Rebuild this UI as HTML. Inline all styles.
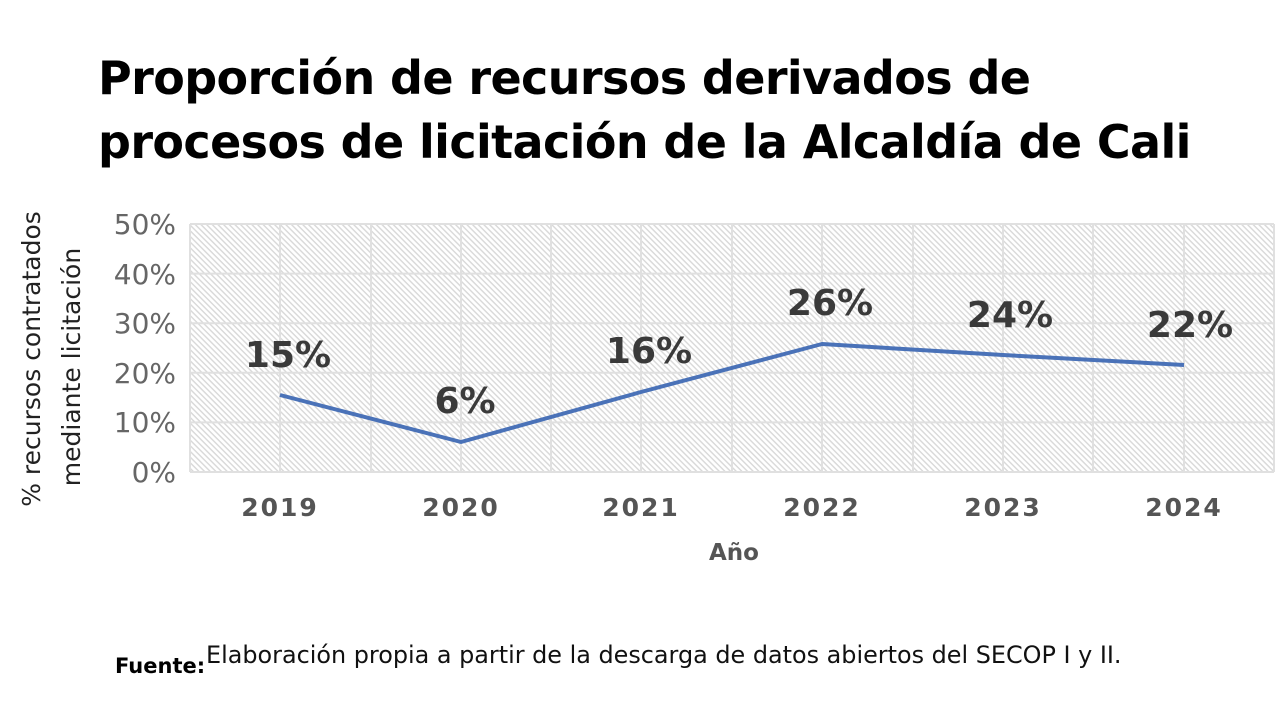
<!DOCTYPE html>
<html><head><meta charset="utf-8"><style>
body{margin:0;width:1280px;height:720px;background:#fff;overflow:hidden;font-family:"DejaVu Sans","Liberation Sans",sans-serif;}
h1{position:absolute;left:98px;top:46px;margin:0;font-family:"DejaVu Sans",sans-serif;font-weight:bold;font-size:46px;line-height:64px;color:#000;letter-spacing:-0.6px;}
</style></head><body>
<h1>Proporción de recursos derivados de<br>procesos de licitación de la Alcaldía de Cali</h1>
<svg width="1280" height="720" style="position:absolute;left:0;top:0">
<defs><pattern id="h" width="4" height="4" patternUnits="userSpaceOnUse" patternTransform="rotate(45)">
<rect width="4" height="4" fill="#fff"/><rect width="4" height="1.4" fill="#d8d8d8"/></pattern></defs>
<rect x="190" y="224" width="1084" height="248" fill="url(#h)"/>
<g stroke="#e0e0e0" stroke-width="2">
<line x1="190" y1="224" x2="1274" y2="224"/><line x1="190" y1="273.6" x2="1274" y2="273.6"/>
<line x1="190" y1="323.2" x2="1274" y2="323.2"/><line x1="190" y1="372.8" x2="1274" y2="372.8"/>
<line x1="190" y1="422.4" x2="1274" y2="422.4"/><line x1="190" y1="472" x2="1274" y2="472"/>
<line x1="190" y1="224" x2="190" y2="472"/><line x1="280" y1="224" x2="280" y2="472"/><line x1="371" y1="224" x2="371" y2="472"/><line x1="461" y1="224" x2="461" y2="472"/><line x1="551" y1="224" x2="551" y2="472"/><line x1="641" y1="224" x2="641" y2="472"/><line x1="732" y1="224" x2="732" y2="472"/><line x1="822" y1="224" x2="822" y2="472"/><line x1="913" y1="224" x2="913" y2="472"/><line x1="1003" y1="224" x2="1003" y2="472"/><line x1="1093" y1="224" x2="1093" y2="472"/><line x1="1184" y1="224" x2="1184" y2="472"/><line x1="1274" y1="224" x2="1274" y2="472"/>
</g>
<polyline points="280,395 461,442 641,392 822,344 1003,355 1184,365" fill="none" stroke="#4a72b8" stroke-width="4" stroke-linejoin="round"/>
<g font-size="28" fill="#666" text-anchor="end" font-family="DejaVu Sans,sans-serif">
<text x="176" y="234">50%</text><text x="176" y="284">40%</text><text x="176" y="333">30%</text><text x="176" y="383">20%</text><text x="176" y="432">10%</text><text x="176" y="482">0%</text>
</g>
<g font-size="25" font-weight="bold" fill="#555" text-anchor="middle" letter-spacing="2">
<text x="280" y="516">2019</text><text x="461" y="516">2020</text><text x="641" y="516">2021</text><text x="822" y="516">2022</text><text x="1003" y="516">2023</text><text x="1184" y="516">2024</text>
</g>
<text x="734" y="560" font-size="23" font-weight="bold" fill="#555" text-anchor="middle">Año</text>
<g font-size="36" font-weight="bold" fill="#3a3a3a" text-anchor="middle">
<text x="288" y="367">15%</text><text x="465" y="413">6%</text><text x="649" y="363">16%</text><text x="830" y="315">26%</text><text x="1010" y="327">24%</text><text x="1190" y="337">22%</text>
</g>
<g font-size="25" fill="#222" text-anchor="middle">
<text transform="translate(40,359) rotate(-90)">% recursos contratados</text>
<text transform="translate(80,367) rotate(-90)">mediante licitación</text>
</g>
<text x="115" y="673" font-size="21" font-weight="bold" fill="#000">Fuente:</text>
<text x="206" y="663" font-size="23.9" fill="#111">Elaboración propia a partir de la descarga de datos abiertos del SECOP I y II.</text>
</svg>
</body></html>
